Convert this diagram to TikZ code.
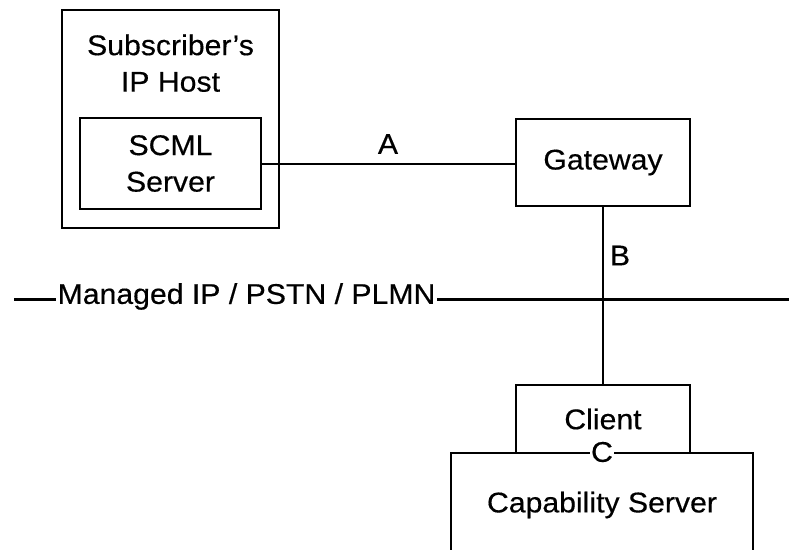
\documentclass[tikz,border=0pt]{standalone}
\usepackage{fontspec}
\setmainfont{Liberation Sans}[FakeStretch=1.06,FakeBold=0.4]
\begin{document}
\begin{tikzpicture}[x=1pt,y=-1pt,
  box/.style={draw, line width=2pt, inner sep=0pt, font=\fontsize{28.5}{36.5}\selectfont, align=center},
  txt/.style={inner sep=0pt, font=\fontsize{28.5}{36.5}\selectfont, align=center},
  conn/.style={line width=2pt},
  net/.style={line width=3pt}]
\useasboundingbox (0,0) rectangle (789,549);
% boxes
\node[box, minimum width=217pt, minimum height=218pt] (host) at (170.5,119) {};
\node[txt] (hosttxt) at (170.5,63.2) {Subscriber’s\\IP Host};
\node[box, minimum width=181pt, minimum height=91pt] (scml) at (170.5,163.5) {SCML\\Server};
\node[box, minimum width=174pt, minimum height=87pt] (gw) at (603,162.5) {Gateway};
\node[box, minimum width=302pt, minimum height=110pt] (cap) at (602,508) {};
\node[txt] (captxt) at (602,505) {Capability Server};
\node[box, minimum width=174pt, minimum height=68pt] (client) at (603,419) {Client};
% connectors
\draw[conn] (scml.east) -- (scml.east -| gw.west);
\draw[conn] (gw.south) -- (client.north);
\coordinate (nl) at (14,299);
\coordinate (nr) at (789,299);
\draw[net] (nl) -- (nr);
% labels
\node[txt, fill=white, inner xsep=2pt, inner ysep=3pt] (netlbl) at (246.5,296.5) {Managed IP / PSTN / PLMN};
\node[txt] (alabel) at (388,144) {A};
\node[txt] (blabel) at (620,255.5) {B};
\node[txt, fill=white, inner xsep=1.5pt] (clabel) at (cap.north) {C};
\end{tikzpicture}
\end{document}
